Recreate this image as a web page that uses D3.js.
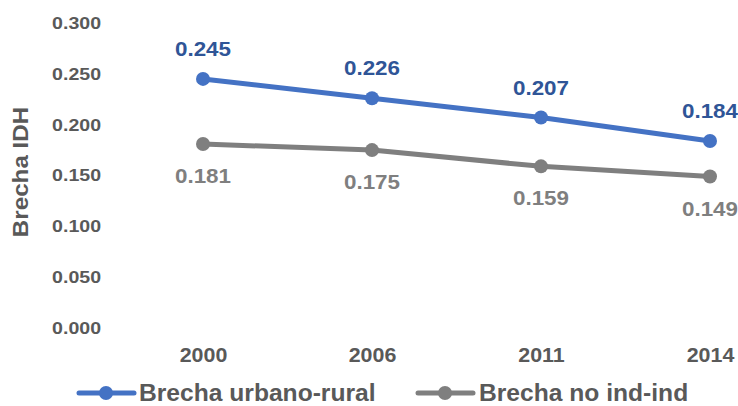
<!DOCTYPE html>
<html><head><meta charset="utf-8">
<script src="https://cdn.jsdelivr.net/npm/d3@7"></script>
<style>body{margin:0;background:#fff}svg{display:block;font-family:"Liberation Sans",Arial,sans-serif;font-weight:bold}
svg text{font-family:"Liberation Sans",Arial,sans-serif;font-weight:bold}</style>
</head><body><svg id="c" width="738" height="406"></svg>
<script>
const years = ["2000","2006","2011","2014"];
const urbanoRural = [0.245,0.226,0.207,0.184];
const noIndInd = [0.181,0.175,0.159,0.149];
const yTicks = [0,0.05,0.1,0.15,0.2,0.25,0.3];
const seriesNames = ["Brecha urbano-rural","Brecha no ind-ind"];

const svg = d3.select("#c");
const x = d3.scalePoint().domain(years).range([203,710]);
const y = d3.scaleLinear().domain([0,0.3]).range([328,23]);

// widen text horizontally (reference glyphs are slightly stretched)
function stretch(sel, k){
  sel.each(function(){
    const w = this.getComputedTextLength();
    d3.select(this).attr("textLength", w*k).attr("lengthAdjust","spacingAndGlyphs");
  });
}

const yAxis = svg.append("g").attr("transform","translate(101,0)")
  .call(d3.axisLeft(y).tickValues(yTicks).tickFormat(d3.format(".3f")).tickSize(0).tickPadding(0));
yAxis.select(".domain").remove();
yAxis.attr("font-size",null).attr("font-family",null);
yAxis.selectAll("text").attr("fill","#595959").style("font-size","17px");
stretch(yAxis.selectAll("text"),1.15);

const xAxis = svg.append("g").attr("transform","translate(0,347)")
  .call(d3.axisBottom(x).tickSize(0).tickPadding(0));
xAxis.select(".domain").remove();
xAxis.attr("font-size",null).attr("font-family",null);
xAxis.selectAll("text").attr("fill","#595959").style("font-size","21px");
stretch(xAxis.selectAll("text"),1.02);

const title = svg.append("text").attr("transform","translate(28,172) rotate(-90)").attr("text-anchor","middle")
  .attr("fill","#595959").style("font-size","22px").text("Brecha IDH");
stretch(title,1.1);

const series = [
  {name:seriesNames[0], vals:urbanoRural, color:"#4472C4", label:"#2F5597", dy:-23, lx:79, tx:139},
  {name:seriesNames[1], vals:noIndInd, color:"#7F7F7F", label:"#7F7F7F", dy:39, lx:418, tx:479}
];
const line = d3.line().x((d,i)=>x(years[i])).y(d=>y(d));
series.forEach(s=>{
  svg.append("path").datum(s.vals).attr("d",line).attr("fill","none").attr("stroke",s.color).attr("stroke-width",5).attr("stroke-linejoin","round");
  svg.selectAll(null).data(s.vals).enter().append("circle").attr("cx",(d,i)=>x(years[i])).attr("cy",d=>y(d)).attr("r",7).attr("fill",s.color);
  const lab = svg.selectAll(null).data(s.vals).enter().append("text").attr("x",(d,i)=>x(years[i])).attr("y",d=>y(d)+s.dy)
    .attr("text-anchor","middle").attr("fill",s.label).style("font-size","20px").text(d=>d3.format(".3f")(d));
  stretch(lab,1.12);
});

// legend
series.forEach((s,i)=>{
  const g = svg.append("g");
  g.append("line").attr("x1",s.lx).attr("x2",s.lx+55).attr("y1",393).attr("y2",393).attr("stroke",s.color).attr("stroke-width",5).attr("stroke-linecap","round");
  g.append("circle").attr("cx",s.lx+27).attr("cy",393).attr("r",7).attr("fill",s.color);
  const t = g.append("text").attr("x",s.tx).attr("y",401).attr("fill","#595959").style("font-size","23px").text(s.name);
  stretch(t,1.07);
});
</script></body></html>
